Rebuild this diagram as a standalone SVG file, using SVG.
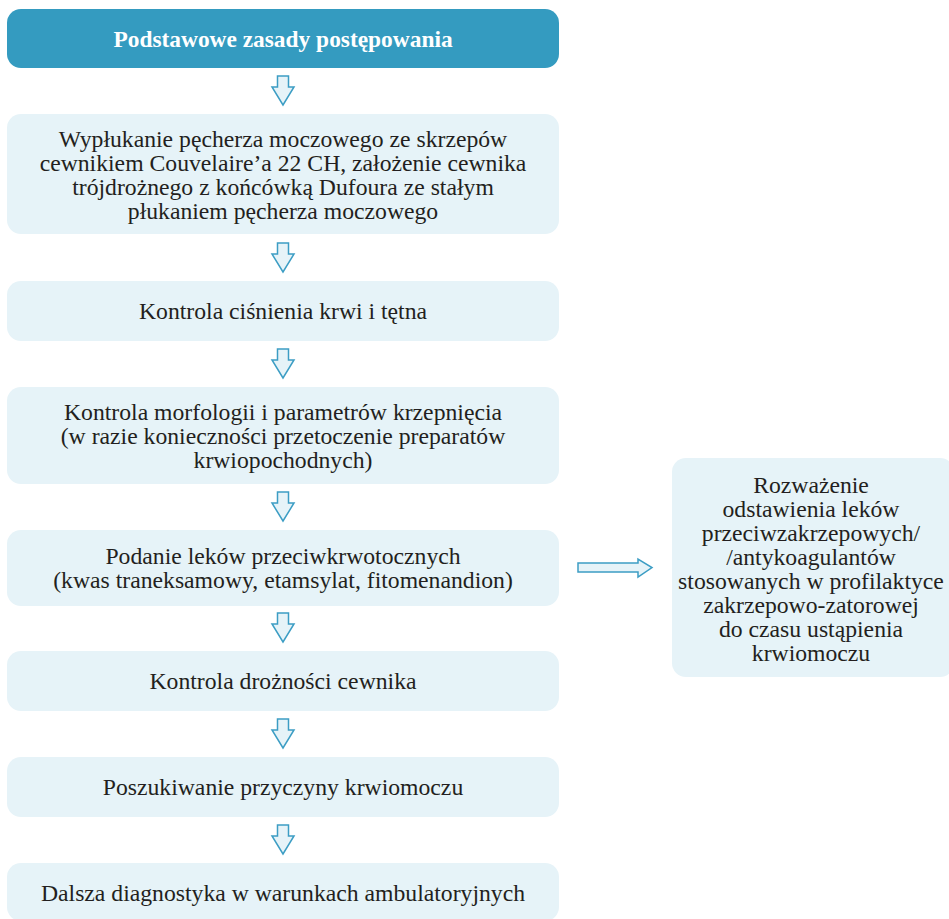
<svg xmlns="http://www.w3.org/2000/svg" width="949" height="919" viewBox="0 0 949 919">
<defs>
<style>
.box{fill:#e6f3f8;}
.hdr{fill:#349bc0;}
.t{font-family:"Liberation Serif","Times New Roman",serif;font-size:23.7px;fill:#231f20;text-anchor:middle;}
.th{font-family:"Liberation Serif","Times New Roman",serif;font-size:23.4px;font-weight:bold;fill:#ffffff;text-anchor:middle;}
.arr{fill:#e6f3f8;stroke:#3c9dc4;stroke-width:1.5;stroke-linejoin:miter;}
</style>
<path id="dn" d="M-5.5,0 H5.5 V11 H11 L0,29 L-11,11 H-5.5 Z"/>
</defs>
<rect width="949" height="919" fill="#ffffff"/>
<g id="n0">
<rect class="hdr" x="7" y="9" width="552" height="59" rx="14"/>
<text class="th" x="283" y="47">Podstawowe zasady postępowania</text>
</g>
<g id="n1">
<rect class="box" x="7" y="114" width="552" height="120" rx="14"/>
<text class="t" x="283" y="147">Wypłukanie pęcherza moczowego ze skrzepów</text>
<text class="t" x="283" y="171">cewnikiem Couvelaire’a 22 CH, założenie cewnika</text>
<text class="t" x="283" y="195">trójdrożnego z końcówką Dufoura ze stałym</text>
<text class="t" x="283" y="219">płukaniem pęcherza moczowego</text>
</g>
<g id="n2">
<rect class="box" x="7" y="281" width="552" height="60" rx="14"/>
<text class="t" x="283" y="319">Kontrola ciśnienia krwi i tętna</text>
</g>
<g id="n3">
<rect class="box" x="7" y="387" width="552" height="97" rx="14"/>
<text class="t" x="283" y="420">Kontrola morfologii i parametrów krzepnięcia</text>
<text class="t" x="283" y="444">(w razie konieczności przetoczenie preparatów</text>
<text class="t" x="283" y="468">krwiopochodnych)</text>
</g>
<g id="n4">
<rect class="box" x="7" y="530" width="552" height="76" rx="14"/>
<text class="t" x="283" y="564">Podanie leków przeciwkrwotocznych</text>
<text class="t" x="283" y="588">(kwas traneksamowy, etamsylat, fitomenandion)</text>
</g>
<g id="n5">
<rect class="box" x="7" y="651" width="552" height="60" rx="14"/>
<text class="t" x="283" y="689">Kontrola drożności cewnika</text>
</g>
<g id="n6">
<rect class="box" x="7" y="757" width="552" height="60" rx="14"/>
<text class="t" x="283" y="795">Poszukiwanie przyczyny krwiomoczu</text>
</g>
<g id="n7">
<rect class="box" x="7" y="863" width="552" height="58" rx="14"/>
<text class="t" x="283" y="901">Dalsza diagnostyka w warunkach ambulatoryjnych</text>
</g>
<g id="n8">
<rect class="box" x="672" y="458" width="282" height="219" rx="14"/>
<text class="t" x="811" y="493">Rozważenie</text>
<text class="t" x="811" y="517">odstawienia leków</text>
<text class="t" x="811" y="541">przeciwzakrzepowych/</text>
<text class="t" x="811" y="565">/antykoagulantów</text>
<text class="t" x="811" y="589">stosowanych w profilaktyce</text>
<text class="t" x="811" y="613">zakrzepowo-zatorowej</text>
<text class="t" x="811" y="637">do czasu ustąpienia</text>
<text class="t" x="811" y="661">krwiomoczu</text>
</g>
<g id="connectors">
<use href="#dn" class="arr" transform="translate(283,76)"/>
<use href="#dn" class="arr" transform="translate(283,243)"/>
<use href="#dn" class="arr" transform="translate(283,349)"/>
<use href="#dn" class="arr" transform="translate(283,492)"/>
<use href="#dn" class="arr" transform="translate(283,613)"/>
<use href="#dn" class="arr" transform="translate(283,719)"/>
<use href="#dn" class="arr" transform="translate(283,825)"/>
<path class="arr" d="M578,563 H638 V559 L652,567.5 L638,577 V572 H578 Z"/>
</g>
</svg>
